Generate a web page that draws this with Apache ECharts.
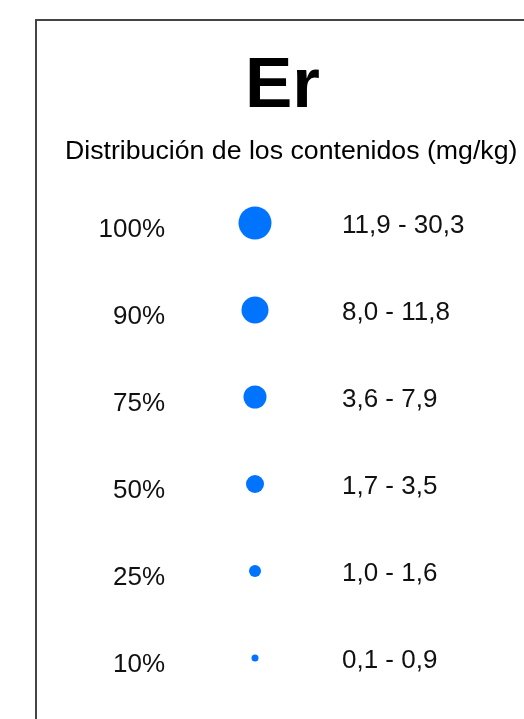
<!DOCTYPE html>
<html>
<head>
<meta charset="utf-8">
<script src="https://cdn.jsdelivr.net/npm/echarts@6/dist/echarts.min.js"></script>
<style>
html,body{margin:0;padding:0;background:#fff;}
#chart{width:524px;height:719px;}
</style>
</head>
<body>
<div id="chart"></div>
<script>
const titleText = 'Er';
const subtitleText = 'Distribución de los contenidos (mg/kg)';
const percentLabels = ['100%', '90%', '75%', '50%', '25%', '10%'];
const rangeLabels = ['11,9 - 30,3', '8,0 - 11,8', '3,6 - 7,9', '1,7 - 3,5', '1,0 - 1,6', '0,1 - 0,9'];
const dotSizes = [33, 27, 23, 18, 12, 7];

const FONT = '"Liberation Sans", Arial, sans-serif';
const chart = echarts.init(document.getElementById('chart'));
chart.setOption({
  backgroundColor: '#fff',
  animation: false,
  title: [
    { text: titleText, left: 240, top: 46,
      textStyle: { fontFamily: FONT, fontSize: 71, fontWeight: 'bold', color: '#000', lineHeight: 72 } },
    { text: subtitleText, left: 60, top: 133,
      textStyle: { fontFamily: FONT, fontSize: 26.7, fontWeight: 'normal', color: '#000', lineHeight: 28 } }
  ],
  graphic: [
    { type: 'rect', shape: { x: 36, y: 20, width: 600, height: 800 },
      style: { fill: 'none', stroke: '#444', lineWidth: 2 }, silent: true }
  ],
  grid: { left: 175, right: 189, top: 179.5, bottom: 17.5, containLabel: false },
  xAxis: { type: 'value', min: 0, max: 1, show: false },
  yAxis: [
    { type: 'category', data: percentLabels, inverse: true,
      axisLine: { show: false }, axisTick: { show: false }, splitLine: { show: false },
      axisLabel: { margin: 10, fontFamily: FONT, fontSize: 26, color: '#111',
        verticalAlign: 'top', lineHeight: 13 } },
    { type: 'category', data: rangeLabels, inverse: true, position: 'right',
      axisLine: { show: false }, axisTick: { show: false }, splitLine: { show: false },
      axisLabel: { margin: 7, fontFamily: FONT, fontSize: 26, color: '#111', align: 'left',
        verticalAlign: 'top', lineHeight: 6 } }
  ],
  series: [{
    type: 'scatter',
    data: percentLabels.map((p, i) => [0.5, i]),
    symbolSize: (v, params) => dotSizes[params.dataIndex],
    itemStyle: { color: '#0073FF', opacity: 1 }
  }]
});
</script>
</body>
</html>
